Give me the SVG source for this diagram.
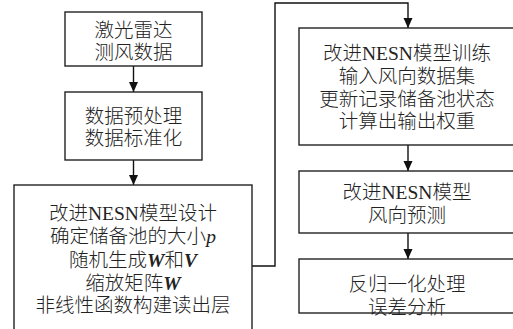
<svg xmlns="http://www.w3.org/2000/svg" width="513" height="329" viewBox="0 0 513 329">
<style>
.box{fill:#fff;stroke:#222;stroke-width:1.4}
.t{font-family:"Liberation Serif","Noto Sans CJK SC",serif;font-size:19.5px;fill:#222;text-anchor:middle;font-weight:300}
.c{fill:none;stroke:#111;stroke-width:1.4}
.bi{font-style:italic;font-weight:bold}
.i{font-style:italic}
</style>
<defs>
<marker id="ah" markerWidth="10" markerHeight="10" refX="10" refY="5" orient="auto" markerUnits="userSpaceOnUse">
<path d="M0,0.5 L10,5 L0,9.5 Z" fill="#111"/>
</marker>
</defs>
<rect width="513" height="329" fill="#fff"/>
<g id="connectors">
<line class="c" x1="133.5" y1="66" x2="133.5" y2="92" marker-end="url(#ah)"/>
<line class="c" x1="133.5" y1="160" x2="133.5" y2="185" marker-end="url(#ah)"/>
<polyline class="c" points="252,266 275,266 275,3 408,3 408,28" marker-end="url(#ah)"/>
<line class="c" x1="408" y1="145" x2="408" y2="171" marker-end="url(#ah)"/>
<line class="c" x1="408" y1="233" x2="408" y2="259" marker-end="url(#ah)"/>
</g>
<g id="n1">
<rect class="box" x="65" y="12" width="137" height="54"/>
<text class="t" x="133.5" y="37">激光雷达</text>
<text class="t" x="133.5" y="59">测风数据</text>
</g>
<g id="n2">
<rect class="box" x="65" y="92" width="137" height="68"/>
<text class="t" x="133.5" y="123">数据预处理</text>
<text class="t" x="133.5" y="145">数据标准化</text>
</g>
<g id="n3">
<rect class="box" x="14" y="185" width="238" height="160"/>
<text class="t" x="133" y="220">改进NESN模型设计</text>
<text class="t" x="133" y="243">确定储备池的大小<tspan class="i">p</tspan></text>
<text class="t" x="133" y="267">随机生成<tspan class="bi">W</tspan>和<tspan class="bi">V</tspan></text>
<text class="t" x="133" y="290">缩放矩阵<tspan class="bi">W</tspan></text>
<text class="t" x="133" y="312">非线性函数构建读出层</text>
</g>
<g id="n4">
<rect class="box" x="299" y="28" width="230" height="117"/>
<text class="t" x="407" y="60">改进NESN模型训练</text>
<text class="t" x="407" y="83">输入风向数据集</text>
<text class="t" x="407" y="106">更新记录储备池状态</text>
<text class="t" x="407" y="128">计算出输出权重</text>
</g>
<g id="n5">
<rect class="box" x="299" y="171" width="230" height="62"/>
<text class="t" x="407" y="199">改进NESN模型</text>
<text class="t" x="407" y="222">风向预测</text>
</g>
<g id="n6">
<rect class="box" x="299" y="259" width="230" height="54"/>
<text class="t" x="407" y="291">反归一化处理</text>
<text class="t" x="407" y="314">误差分析</text>
</g>
</svg>
